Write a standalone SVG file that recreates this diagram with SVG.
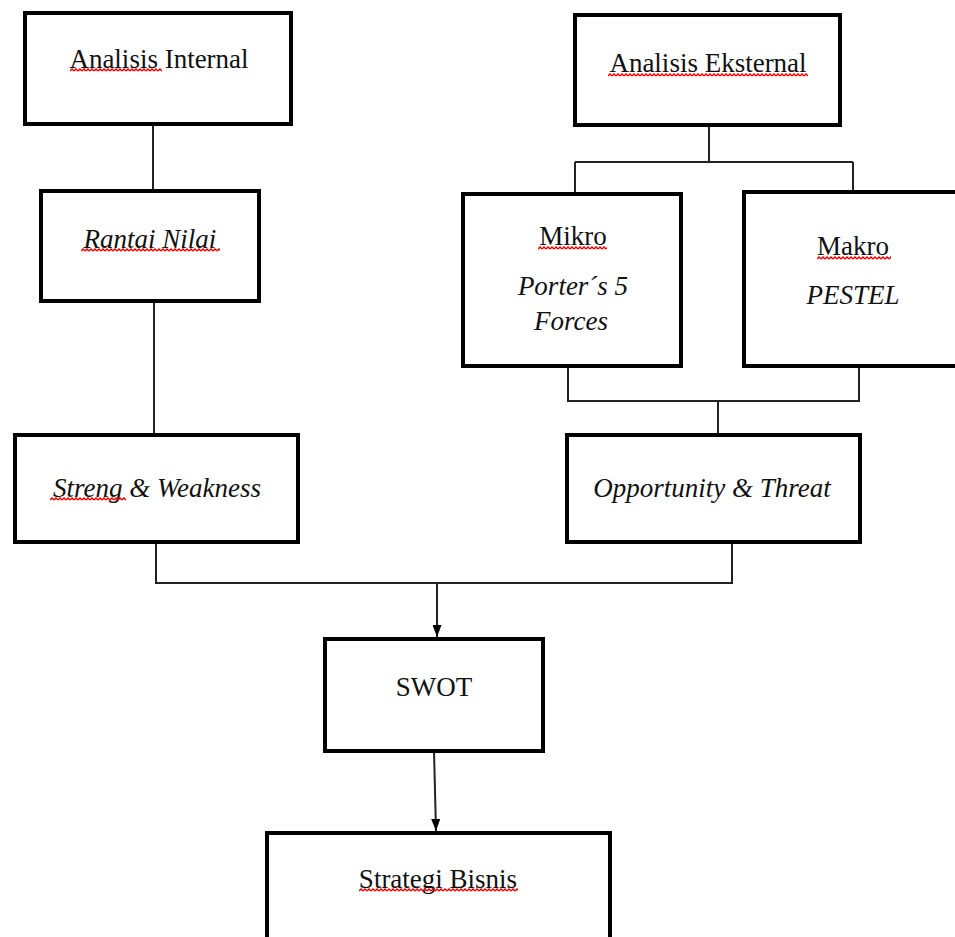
<svg xmlns="http://www.w3.org/2000/svg" width="955" height="937" viewBox="0 0 955 937">
<style>
.box{fill:#fff;stroke:#000;stroke-width:4}
.t{font-family:"Liberation Serif","Times New Roman",serif;font-size:27px;fill:#111;text-anchor:middle}
.i{font-style:italic}
.c{fill:none;stroke:#222;stroke-width:2}
</style>
<defs>
<pattern id="sq" patternUnits="userSpaceOnUse" width="4" height="4">
<path d="M0,3 L2,1 L4,3" fill="none" stroke="#e00" stroke-width="1.5"/>
</pattern>
<marker id="ah" viewBox="0 0 10 10" refX="10" refY="5" markerWidth="6" markerHeight="4.5" markerUnits="strokeWidth" orient="auto" preserveAspectRatio="none">
<path d="M0,0 L10,5 L0,10 Z" fill="#000"/>
</marker>
</defs>
<rect width="955" height="937" fill="#fff"/>
<g id="connectors">
<path class="c" d="M153,124 V191"/>
<path class="c" d="M154,301 V435"/>
<path class="c" d="M709,125 V162 M575,162 H853 M575,162 V194 M853,162 V192"/>
<path class="c" d="M568,366 V401 H859 V366 M718,401 V435"/>
<path class="c" d="M156,542 V583 H732 V542"/>
<path class="c" d="M437,583 V637" marker-end="url(#ah)"/>
<path class="c" d="M434,751 L436,831" marker-end="url(#ah)"/>
</g>
<g id="analisis-internal">
<rect class="box" x="25" y="13" width="266" height="111"/>
<text class="t" x="159" y="68">Analisis Internal</text>
<rect transform="translate(70,68)" width="92" height="4" fill="url(#sq)"/>
</g>
<g id="rantai-nilai">
<rect class="box" x="41" y="191" width="218" height="110"/>
<text class="t i" x="150" y="248">Rantai Nilai</text>
<rect transform="translate(81,248)" width="139" height="4" fill="url(#sq)"/>
</g>
<g id="streng-weakness">
<rect class="box" x="15" y="435" width="283" height="107"/>
<text class="t i" x="157" y="497">Streng &amp; Weakness</text>
<rect transform="translate(50,497)" width="76" height="4" fill="url(#sq)"/>
</g>
<g id="analisis-eksternal">
<rect class="box" x="575" y="15" width="265" height="110"/>
<text class="t" x="708" y="72">Analisis Eksternal</text>
<rect transform="translate(608,73)" width="200" height="4" fill="url(#sq)"/>
</g>
<g id="mikro">
<rect class="box" x="463" y="194" width="218" height="172"/>
<text class="t" x="573" y="245">Mikro</text>
<rect transform="translate(538,246)" width="69" height="4" fill="url(#sq)"/>
<text class="t i" x="573" y="295">Porter´s 5</text>
<text class="t i" x="571" y="330">Forces</text>
</g>
<g id="makro">
<rect class="box" x="744" y="192" width="220" height="174"/>
<text class="t" x="853" y="255">Makro</text>
<rect transform="translate(817,256)" width="74" height="4" fill="url(#sq)"/>
<text class="t i" x="853" y="304">PESTEL</text>
</g>
<g id="opportunity-threat">
<rect class="box" x="567" y="435" width="293" height="107"/>
<text class="t i" x="712" y="497">Opportunity &amp; Threat</text>
</g>
<g id="swot">
<rect class="box" x="325" y="639" width="218" height="112"/>
<text class="t" x="434" y="696">SWOT</text>
</g>
<g id="strategi-bisnis">
<rect class="box" x="267" y="833" width="343" height="120"/>
<text class="t" x="438" y="888">Strategi Bisnis</text>
<rect transform="translate(359,888)" width="159" height="4" fill="url(#sq)"/>
</g>
</svg>
